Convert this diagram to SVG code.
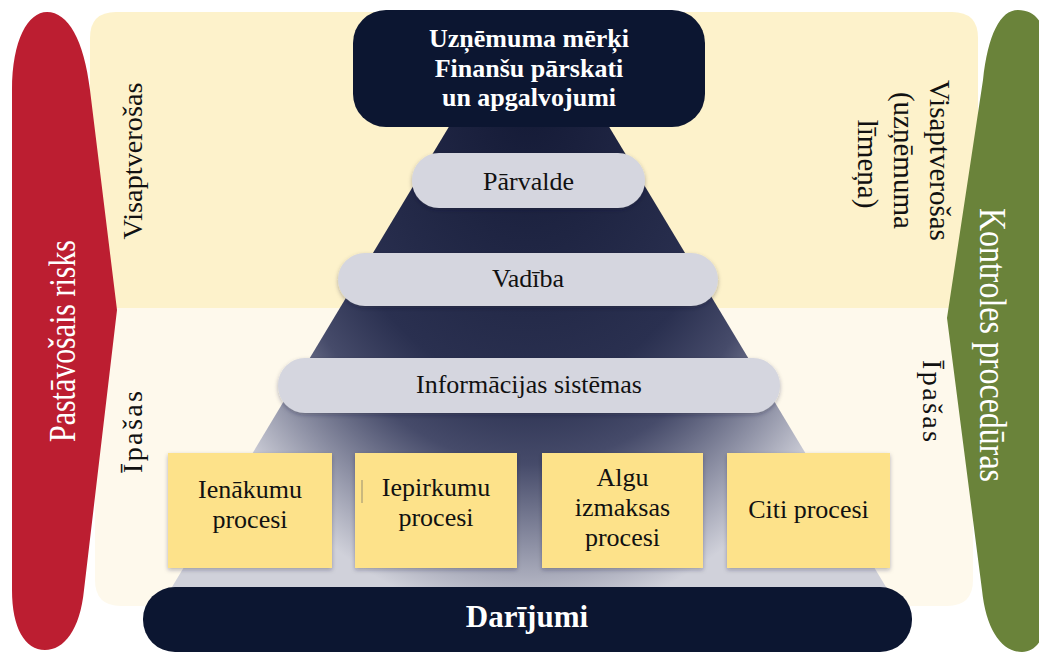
<svg xmlns="http://www.w3.org/2000/svg" width="1039" height="653" viewBox="0 0 1039 653" font-family="'Liberation Serif', 'DejaVu Serif', serif">
  <defs>
    <style>
      text { font-family: 'Liberation Serif', 'DejaVu Serif', serif; }
      .lbl { font-size: 26px; fill: #111111; text-anchor: middle; }
      .side { font-size: 28px; fill: #111111; text-anchor: middle; }
      .band { font-size: 37px; fill: #ffffff; text-anchor: middle; }
      .head { font-size: 26px; font-weight: bold; fill: #ffffff; text-anchor: middle; }
      .navy { fill: #0c1631; }
      .pill { fill: #d5d6df; }
      .proc { fill: #fde28a; }
    </style>
    <radialGradient id="pyrGrad" gradientUnits="userSpaceOnUse" cx="529" cy="100" r="520" gradientTransform="translate(529 100) scale(0.74 1) translate(-529 -100)">
      <stop offset="0" stop-color="#141a36"/>
      <stop offset="0.55" stop-color="#2a3050"/>
      <stop offset="0.7" stop-color="#464b6a"/>
      <stop offset="0.86" stop-color="#8f92a6"/>
      <stop offset="1" stop-color="#d0d1da"/>
    </radialGradient>
    <filter id="soft" x="-10%" y="-20%" width="120%" height="150%">
      <feDropShadow dx="0" dy="2" stdDeviation="2" flood-color="#20243a" flood-opacity="0.3"/>
    </filter>
  </defs>

  <rect x="0" y="0" width="1039" height="653" fill="#ffffff"/>

  <!-- background bands -->
  <g id="bands">
    <path d="M 95,308 L 973,308 L 973,580 Q 973,606 947,606 L 121,606 Q 95,606 95,580 Z" fill="#fef9ec"/>
    <path d="M 90,308 L 90,38 Q 90,12 116,12 L 952,12 Q 978,12 978,38 L 978,308 Z" fill="#fdf2cb"/>
  </g>

  <!-- inherent risk band -->
  <g id="risk">
    <path d="M 12,90 C 12,40 28,12 47,12 C 68,12 84,40 90,90 L 117,310 L 84,590 C 80,630 64,650 45,650 C 25,650 12,628 12,590 Z" fill="#bc1e31"/>
    <text class="band" transform="translate(75 341) rotate(-90)" textLength="202" lengthAdjust="spacingAndGlyphs">Pastāvošais risks</text>
  </g>

  <!-- control procedures band -->
  <g id="controls">
    <path d="M 983,80 C 988,35 1000,10 1018,10 C 1040,10 1050,30 1050,80 L 1050,590 C 1050,630 1040,652 1022,652 C 1002,652 986,630 982,590 L 947,318 Z" fill="#6a833a"/>
    <text class="band" transform="translate(980 345) rotate(90)" textLength="274" lengthAdjust="spacingAndGlyphs">Kontroles procedūras</text>
  </g>

  <!-- side labels -->
  <g id="side-labels">
    <text class="side" transform="translate(142 161) rotate(-90)" textLength="157" lengthAdjust="spacingAndGlyphs">Visaptverošas</text>
    <text class="side" transform="translate(142 432) rotate(-90)" textLength="82" lengthAdjust="spacing">Īpašas</text>
    <text class="side" transform="translate(930 164) rotate(90)" style="font-size:29px">
      <tspan x="0" y="0">Visaptverošas</tspan>
      <tspan x="0" y="36">(uzņēmuma</tspan>
      <tspan x="0" y="72">līmeņa)</tspan>
    </text>
    <text class="side" transform="translate(923 401) rotate(90)" textLength="82" lengthAdjust="spacing">Īpašas</text>
  </g>

  <!-- pyramid body -->
  <g id="pyramid">
    <polygon points="465,100 593,100 889,592 169,592" fill="url(#pyrGrad)"/>
  </g>

  <g id="connectors"></g>

  <g id="objectives">
    <rect class="navy" x="353" y="10" width="352" height="117" rx="33"/>
    <text class="head" x="529" y="47">Uzņēmuma mērķi</text>
    <text class="head" x="529" y="77">Finanšu pārskati</text>
    <text class="head" x="529" y="106">un apgalvojumi</text>
  </g>

  <g id="governance">
    <rect class="pill" x="412" y="153" width="233" height="55" rx="27" filter="url(#soft)"/>
    <text class="lbl" x="528.5" y="190">Pārvalde</text>
  </g>

  <g id="management">
    <rect class="pill" x="338" y="253" width="380" height="53" rx="27" filter="url(#soft)"/>
    <text class="lbl" x="528" y="287">Vadība</text>
  </g>

  <g id="information-systems">
    <rect class="pill" x="278" y="358" width="502" height="55" rx="27" filter="url(#soft)"/>
    <text class="lbl" x="529" y="393">Informācijas sistēmas</text>
  </g>

  <g id="revenue">
    <rect class="proc" x="168" y="453" width="164" height="115" filter="url(#soft)"/>
    <text class="lbl" x="250" y="498">Ienākumu</text>
    <text class="lbl" x="250" y="528">procesi</text>
  </g>

  <g id="purchasing">
    <rect class="proc" x="355" y="453" width="162" height="115" filter="url(#soft)"/>
    <line x1="362" y1="480" x2="362" y2="503" stroke="#b9aa78" stroke-width="1.5"/>
    <text class="lbl" x="436" y="496">Iepirkumu</text>
    <text class="lbl" x="436" y="526">procesi</text>
  </g>

  <g id="payroll">
    <rect class="proc" x="542" y="453" width="161" height="115" filter="url(#soft)"/>
    <text class="lbl" x="622.5" y="486">Algu</text>
    <text class="lbl" x="622.5" y="516">izmaksas</text>
    <text class="lbl" x="622.5" y="546">procesi</text>
  </g>

  <g id="other">
    <rect class="proc" x="727" y="453" width="163" height="115" filter="url(#soft)"/>
    <text class="lbl" x="808.5" y="518">Citi procesi</text>
  </g>

  <g id="transactions">
    <rect class="navy" x="143" y="587" width="769" height="65" rx="32"/>
    <text class="head" x="527" y="627" style="font-size:31px">Darījumi</text>
  </g>
</svg>
